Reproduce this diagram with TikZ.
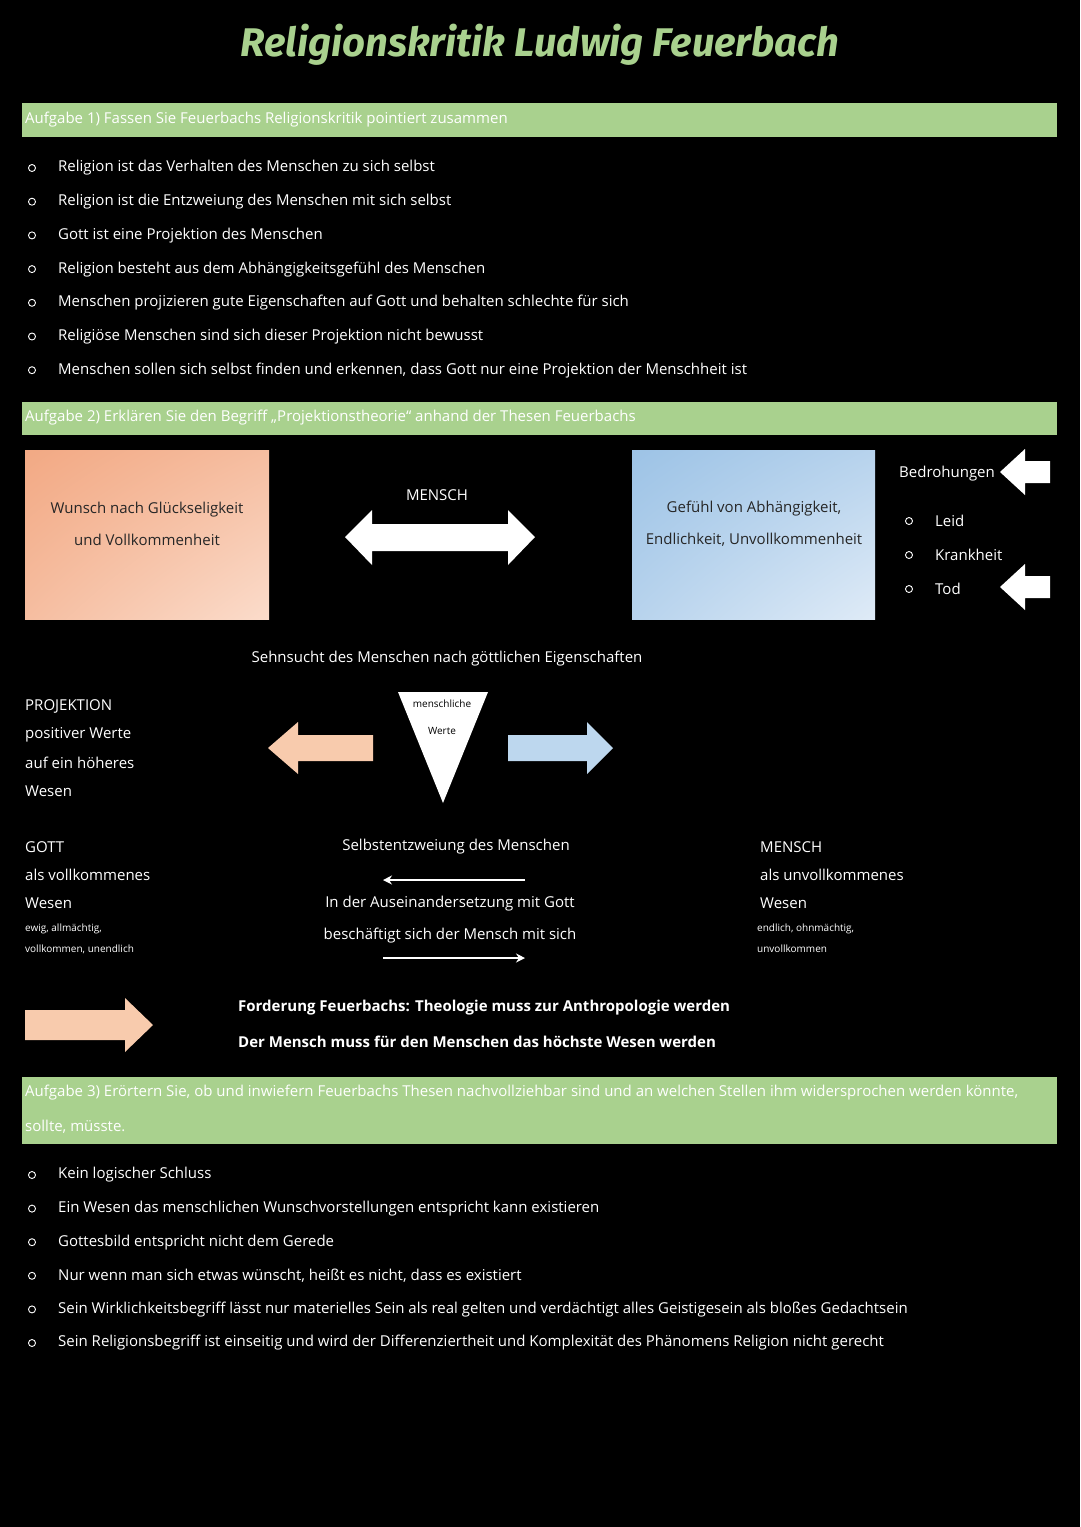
\documentclass[tikz,border=0pt]{standalone}
\usepackage{fontspec}
\usetikzlibrary{shadings,arrows.meta}
\setmainfont{Open Sans}
\newfontfamily\titlefont{Fira Sans}
\definecolor{bargreen}{HTML}{A9D18E}
\definecolor{peach}{HTML}{F8CBAD}
\definecolor{lblue}{HTML}{BDD7EE}
\definecolor{boxorA}{HTML}{F2A984}
\definecolor{boxorB}{HTML}{FBDCCB}
\definecolor{boxblA}{HTML}{9DC3E6}
\definecolor{boxblB}{HTML}{DFEBF7}
\begin{document}
\begin{tikzpicture}[x=1pt,y=-1pt,
  txt/.style={text=white,font=\fontsize{15}{18}\selectfont,inner sep=0pt},
  lt/.style={txt,anchor=west},
  sm/.style={text=white,font=\fontsize{10}{12}\selectfont,inner sep=0pt,anchor=west},
  bar/.style={fill=bargreen,draw=none},
  bul/.style={circle,draw=white,line width=0.9pt,minimum size=7pt,inner sep=0pt},
  bold/.style={text=white,font=\bfseries\fontsize{15}{18}\selectfont,inner sep=0pt,anchor=west}]
\fill[black] (0,0) rectangle (1080,1527);
\useasboundingbox (0,0) rectangle (1080,1527);
\node[text=bargreen,font=\titlefont\bfseries\itshape\fontsize{40}{44}\selectfont] (title) at (540,45) {Religionskritik Ludwig Feuerbach};
% bar 1
\fill[bar] (22,103) rectangle (1057,137);
\node[lt] (a1) at (25,120) {Aufgabe 1) Fassen Sie Feuerbachs Religionskritik pointiert zusammen};
\foreach \i/\t in {0/{Religion ist das Verhalten des Menschen zu sich selbst},
1/{Religion ist die Entzweiung des Menschen mit sich selbst},
2/{Gott ist eine Projektion des Menschen},
3/{Religion besteht aus dem Abhängigkeitsgefühl des Menschen},
4/{Menschen projizieren gute Eigenschaften auf Gott und behalten schlechte für sich},
5/{Religiöse Menschen sind sich dieser Projektion nicht bewusst},
6/{Menschen sollen sich selbst finden und erkennen, dass Gott nur eine Projektion der Menschheit ist}}{
  \node[bul] (b\i) at (32,168+33.7*\i) {};
  \node[lt] (t\i) at (58,168+33.7*\i) {\t};
}
% bar 2
\fill[bar] (22,402) rectangle (1057,435);
\node[lt] (a2) at (25,418) {Aufgabe 2) Erklären Sie den Begriff „Projektionstheorie“ anhand der Thesen Feuerbachs};
\shade[upper left=boxorA, lower right=boxorB, upper right=boxorA!60!boxorB, lower left=boxorA!60!boxorB] (25,450) rectangle (269,619);
\node[txt,text=black!85,align=center,font=\fontsize{15}{32}\selectfont] (wunsch) at (147,524) {Wunsch nach Glückseligkeit\\und Vollkommenheit};
\shade[upper left=boxblA, lower right=boxblB, upper right=boxblA!60!boxblB, lower left=boxblA!60!boxblB] (632,450) rectangle (875,619);
\node[txt,text=black!85,align=center,font=\fontsize{15}{32}\selectfont] (gef) at (754,524) {Gefühl von Abhängigkeit,\\Endlichkeit, Unvollkommenheit};
\node[txt] (mensch1) at (437,495) {MENSCH};
\fill[white] (345,537) -- (372,510) -- (372,524) -- (508,524) -- (508,510) -- (535,537) -- (508,565) -- (508,551) -- (372,551) -- (372,565) -- cycle;
\node[txt] (bedr) at (947,474) {Bedrohungen};
\foreach \y in {472,587}{
  \fill[white] (1000,\y) -- (1025,\y-23) -- (1025,\y-11) -- (1050,\y-11) -- (1050,\y+11) -- (1025,\y+11) -- (1025,\y+23) -- cycle;}
\foreach \i/\t in {0/Leid,1/Krankheit,2/Tod}{
  \node[bul] (c\i) at (909,521+34*\i) {};
  \node[lt] (ct\i) at (935,521+34*\i) {\t};}
\node[txt] (sehn) at (447,659) {Sehnsucht des Menschen nach göttlichen Eigenschaften};
\fill[white] (398,692) -- (488,692) -- (443,803) -- cycle;
\node[text=black,font=\fontsize{10}{12}\selectfont,inner sep=0pt] (mw1) at (442,704) {menschliche};
\node[text=black,font=\fontsize{10}{12}\selectfont,inner sep=0pt] (mw2) at (442,731) {Werte};
\fill[peach] (268,748) -- (298,722) -- (298,735) -- (373,735) -- (373,761) -- (298,761) -- (298,774) -- cycle;
\fill[lblue] (613,748) -- (587,722) -- (587,735) -- (508,735) -- (508,761) -- (587,761) -- (587,774) -- cycle;
\foreach \i/\t in {0/PROJEKTION,1/positiver Werte,2/auf ein höheres,3/Wesen}{
  \node[lt] (p\i) at (25,706+28.5*\i) {\t};}
\node[lt] (g0) at (25,847) {GOTT};
\node[lt] (g1) at (25,875) {als vollkommenes};
\node[lt] (g2) at (25,903) {Wesen};
\node[sm] (g3) at (25,929) {ewig, allmächtig,};
\node[sm] (g4) at (25,949) {vollkommen, unendlich};
\node[lt] (m0) at (760,847) {MENSCH};
\node[lt] (m1) at (760,875) {als unvollkommenes};
\node[lt] (m2) at (760,903) {Wesen};
\node[sm] (m3) at (757,929) {endlich, ohnmächtig,};
\node[sm] (m4) at (757,949) {unvollkommen};
\node[txt] (selbst) at (456,847) {Selbstentzweiung des Menschen};
\node[txt] (ausein) at (450,904) {In der Auseinandersetzung mit Gott};
\node[txt] (besch) at (450,936) {beschäftigt sich der Mensch mit sich};
\coordinate (la) at (525,880); \coordinate (lb) at (383,880);
\coordinate (ra) at (383,958); \coordinate (rb) at (525,958);
\draw[white,line width=1.5pt,-{Stealth[length=9pt,width=9pt]}] (la) -- (lb);
\draw[white,line width=1.5pt,-{Stealth[length=9pt,width=9pt]}] (ra) -- (rb);
\fill[peach] (25,1010) -- (125,1010) -- (125,998) -- (153,1025) -- (125,1052) -- (125,1040) -- (25,1040) -- cycle;
\node[bold] (f1) at (238,1008) {Forderung Feuerbachs: Theologie muss zur Anthropologie werden};
\node[bold] (f2) at (238,1042) {Der Mensch muss für den Menschen das höchste Wesen werden};
% bar 3
\fill[bar] (22,1077) rectangle (1057,1144);
\node[lt] (a3a) at (25,1093) {Aufgabe 3) Erörtern Sie, ob und inwiefern Feuerbachs Thesen nachvollziehbar sind und an welchen Stellen ihm widersprochen werden könnte,};
\node[lt] (a3b) at (25,1127) {sollte, müsste.};
\foreach \i/\t in {0/{Kein logischer Schluss},
1/{Ein Wesen das menschlichen Wunschvorstellungen entspricht kann existieren},
2/{Gottesbild entspricht nicht dem Gerede},
3/{Nur wenn man sich etwas wünscht, heißt es nicht, dass es existiert},
4/{Sein Wirklichkeitsbegriff lässt nur materielles Sein als real gelten und verdächtigt alles Geistigesein als bloßes Gedachtsein},
5/{Sein Religionsbegriff ist einseitig und wird der Differenziertheit und Komplexität des Phänomens Religion nicht gerecht}}{
  \node[bul] (d\i) at (32,1175+33.6*\i) {};
  \node[lt] (dt\i) at (58,1175+33.6*\i) {\t};
}
\end{tikzpicture}
\end{document}
